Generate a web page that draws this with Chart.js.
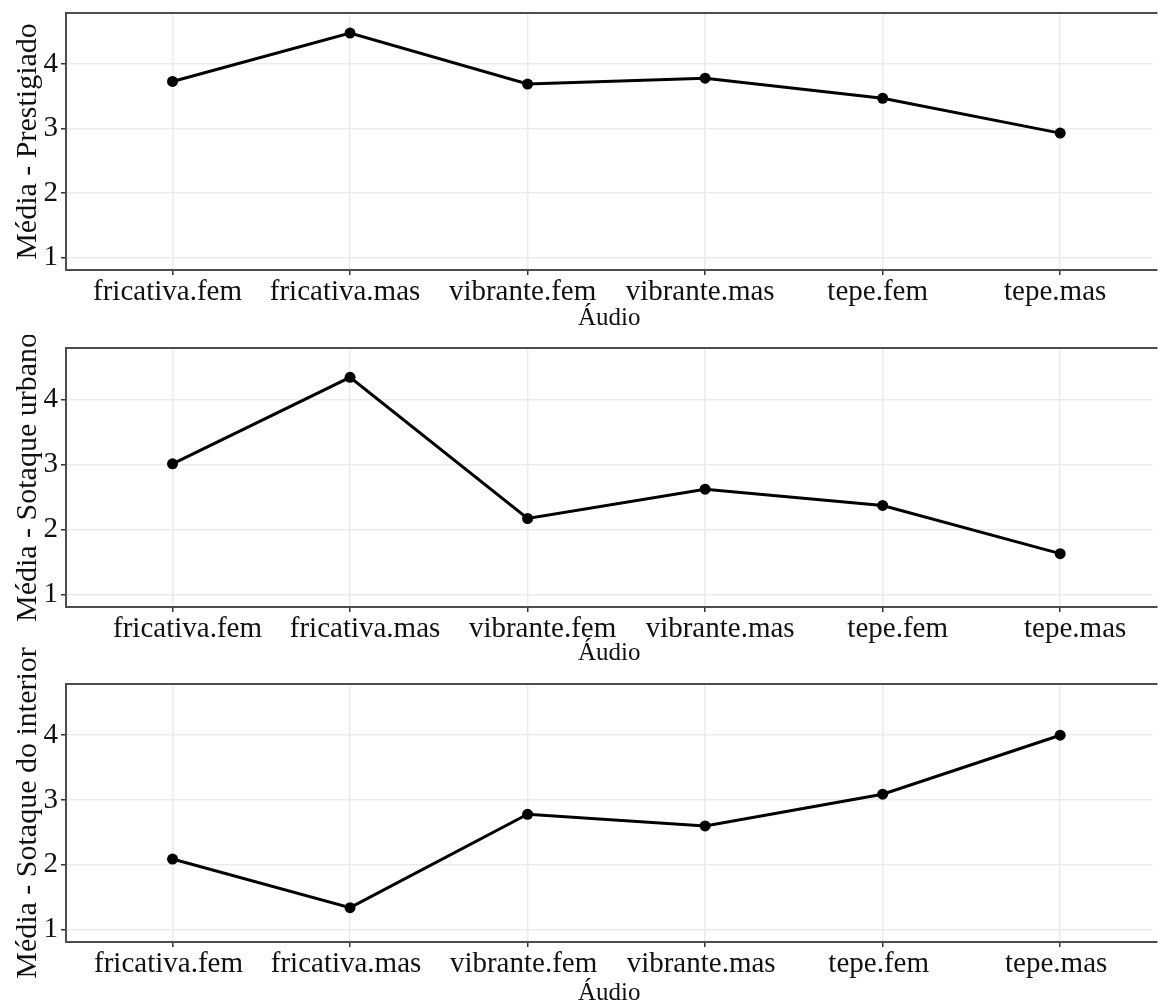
<!DOCTYPE html>
<html>
<head>
<meta charset="utf-8">
<script src="https://cdn.jsdelivr.net/npm/chart.js@4.4.1/dist/chart.umd.min.js"></script>
<style>
  html, body { margin: 0; padding: 0; background: #fff; overflow: hidden; }
  #wrap { position: relative; width: 1158px; height: 1001px; overflow: hidden; }
  canvas { position: absolute; left: 0; }
</style>
</head>
<body>
<div id="wrap">
  <canvas id="painel1" width="1158" height="335" style="top:0"></canvas>
  <canvas id="painel2" width="1158" height="335" style="top:335px"></canvas>
  <!-- o painel 3 começa mais acima porque o título do eixo y invade o painel 2 -->
  <canvas id="painel3" width="1158" height="370" style="top:640px"></canvas>
</div>
<script>
// --- dados ---
const audios = ["fricativa.fem", "fricativa.mas", "vibrante.fem", "vibrante.mas", "tepe.fem", "tepe.mas"];

const mediaPrestigiado = [3.73, 4.48, 3.69, 3.78, 3.47, 2.93];
const mediaUrbano      = [3.01, 4.34, 2.17, 2.62, 2.37, 1.63];
const mediaInterior    = [2.09, 1.34, 2.78, 2.60, 3.09, 4.00];

const yTicks  = [1, 2, 3, 4];
const yMinors = [1.5, 2.5, 3.5, 4.5];

const FONTE = "'Liberation Serif', 'Times New Roman', serif";
const COR_TEXTO = "#111";

// borda do painel (theme_bw) - esquerda, topo e base; a direita fica cortada na imagem
const bordaPainel = {
  id: "bordaPainel",
  afterDatasetsDraw(chart) {
    const { ctx, chartArea: a } = chart;
    ctx.save();
    ctx.strokeStyle = "#4d4d4d";
    ctx.lineWidth = 2;
    ctx.beginPath();
    ctx.moveTo(a.right + 5, a.top);
    ctx.lineTo(a.left, a.top);
    ctx.lineTo(a.left, a.bottom);
    ctx.lineTo(a.right + 5, a.bottom);
    ctx.stroke();
    ctx.restore();
  }
};

function criarPainel(id, titulo, valores, topo, alturaX, deslocLabel) {
  const ctx = document.getElementById(id).getContext("2d");
  return new Chart(ctx, {
    type: "line",
    data: {
      datasets: [{
        data: valores.map((v, i) => ({ x: i, y: v })),
        borderColor: "#000",
        backgroundColor: "#000",
        borderWidth: 3,
        pointRadius: 5.5,
        pointBackgroundColor: "#000",
        pointBorderWidth: 0,
        tension: 0
      }]
    },
    options: {
      responsive: false,
      animation: false,
      layout: { padding: { top: topo, left: 0, right: 0, bottom: 0 } },
      plugins: { legend: { display: false }, tooltip: { enabled: false } },
      scales: {
        x: {
          type: "linear",
          min: -0.6,
          max: 5.52,
          afterBuildTicks: (s) => { s.ticks = audios.map((a, i) => ({ value: i })); },
          afterFit: (s) => {
            s.height = alturaX;
            s.paddingLeft = 0;
            s.paddingRight = 0;
          },
          ticks: {
            callback: (v) => audios[v],
            font: { family: FONTE, size: 29 },
            color: COR_TEXTO,
            padding: 0,
            labelOffset: deslocLabel,
            maxRotation: 0,
            autoSkip: false
          },
          grid: {
            color: "#ebebeb",
            lineWidth: 1.5,
            tickLength: 5,
            tickColor: "#333",
            tickWidth: 1.5
          },
          border: { display: false },
          title: {
            display: true,
            text: "Áudio",
            font: { family: FONTE, size: 25 },
            color: COR_TEXTO,
            padding: { top: 0, bottom: 2 }
          }
        },
        y: {
          type: "linear",
          min: 0.81,
          max: 4.79,
          afterBuildTicks: (s) => {
            s.ticks = yTicks.concat(yMinors).sort((a, b) => a - b).map(v => ({ value: v }));
          },
          afterFit: (s) => {
            s.width = 66;
            s.paddingTop = 0;
            s.paddingBottom = 0;
          },
          ticks: {
            callback: (v) => (yTicks.includes(v) ? String(v) : ""),
            font: { family: FONTE, size: 29 },
            color: COR_TEXTO,
            padding: 3
          },
          grid: {
            color: (c) => (c.tick && yTicks.includes(c.tick.value) ? "#ebebeb" : "#f3f3f3"),
            lineWidth: (c) => (c.tick && yTicks.includes(c.tick.value) ? 1.5 : 1),
            tickLength: 5,
            tickColor: (c) => (c.tick && yTicks.includes(c.tick.value) ? "#333" : "rgba(0,0,0,0)"),
            tickWidth: 1.5
          },
          border: { display: false },
          title: {
            display: true,
            text: titulo,
            font: { family: FONTE, size: 30 },
            color: COR_TEXTO,
            padding: { top: 10, bottom: 0 }
          }
        }
      }
    },
    plugins: [bordaPainel]
  });
}

criarPainel("painel1", "Média - Prestigiado", mediaPrestigiado, 13, 65, -5);
criarPainel("painel2", "Média - Sotaque urbano", mediaUrbano, 13, 63, 15);
criarPainel("painel3", "Média - Sotaque do interior", mediaInterior, 44, 68, -4);
</script>
</body>
</html>
